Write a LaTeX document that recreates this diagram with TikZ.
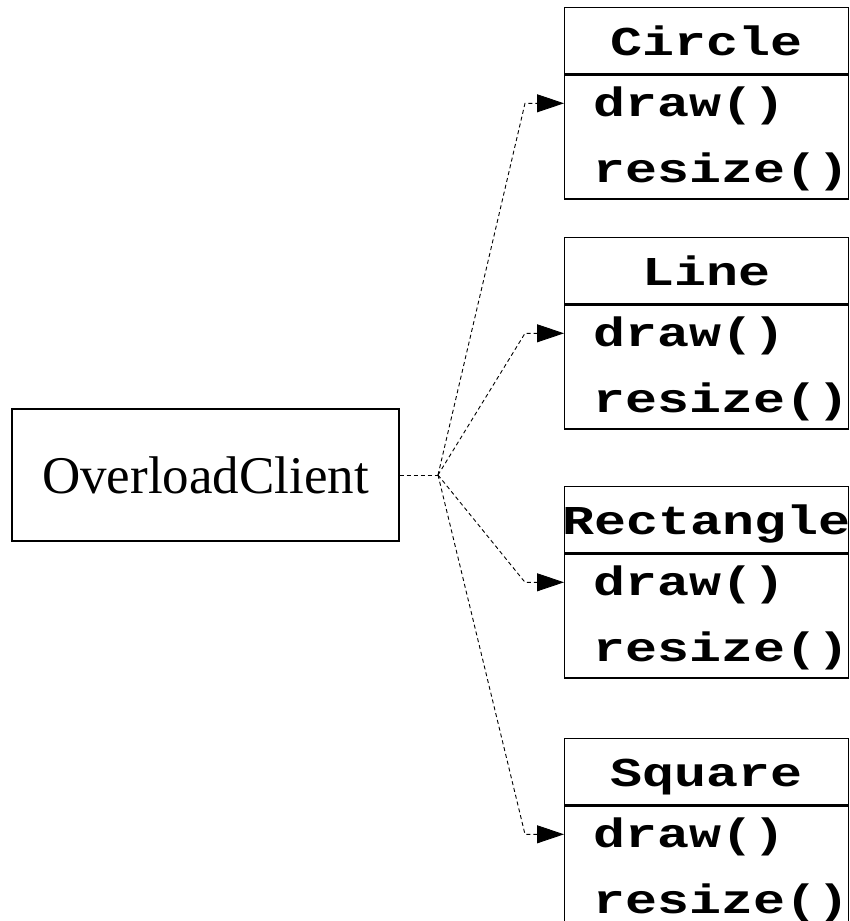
\documentclass[tikz,border=0pt]{standalone}
\usepackage{fontspec}
\setmainfont{Liberation Serif}
\newfontfamily\codefont{Liberation Mono}[FakeStretch=1.3]
\usetikzlibrary{arrows.meta}

\begin{document}
\begin{tikzpicture}[x=1pt,y=-1pt,
  boxline/.style={draw=black, line width=1.3pt},
  clientbox/.style={boxline, inner sep=0pt, minimum width=387pt, minimum height=132pt,
    font=\fontsize{53pt}{60pt}\selectfont},
  headbox/.style={boxline, inner sep=0pt, minimum width=284pt, minimum height=66pt, anchor=north west},
  opsbox/.style={boxline, inner sep=0pt, minimum width=284pt, minimum height=124pt, anchor=north west},
  codetext/.style={inner sep=0pt, font=\codefont\bfseries\fontsize{41pt}{50pt}\selectfont},
  titletext/.style={codetext, anchor=base},
  optext/.style={codetext, anchor=base west},
  conn/.style={line width=0.9pt, dash pattern=on 4pt off 3pt,
    -{Triangle[length=27pt,width=18pt]}}]

\useasboundingbox (0,0) rectangle (849,921);

% client class
\node[clientbox] (client) at (205.5,475) {OverloadClient};
\coordinate (fan) at (438,475);

% the four shape classes: name / top edge / title
\foreach \n/\t/\title in {circle/7/Circle,line/237/Line,rect/486/Rectangle,square/738/Square}{
  \node[headbox] (\n-head) at (564,\t) {};
  \node[opsbox] (\n-ops) at (\n-head.south west) {};
  \node[titletext] (\n-title) at ([yshift=-48pt]\n-head.north) {\title};
  \node[optext] (\n-draw) at ([xshift=29pt,yshift=-42pt]\n-ops.north west) {draw()};
  \node[optext] (\n-resize) at ([xshift=29pt,yshift=-108pt]\n-ops.north west) {resize()};
  \coordinate (\n-in) at ([yshift=-29pt]\n-ops.north west);
  \coordinate (\n-kink) at ([xshift=-39pt]\n-in);
}

% dashed calls from the client to each draw()
\draw[line width=0.9pt, dash pattern=on 4pt off 3pt] (client.east) -- (fan);
\foreach \n in {circle,line,rect,square}{
  \draw[conn] (fan) -- (\n-kink) -- (\n-in);
}
\end{tikzpicture}
\end{document}
